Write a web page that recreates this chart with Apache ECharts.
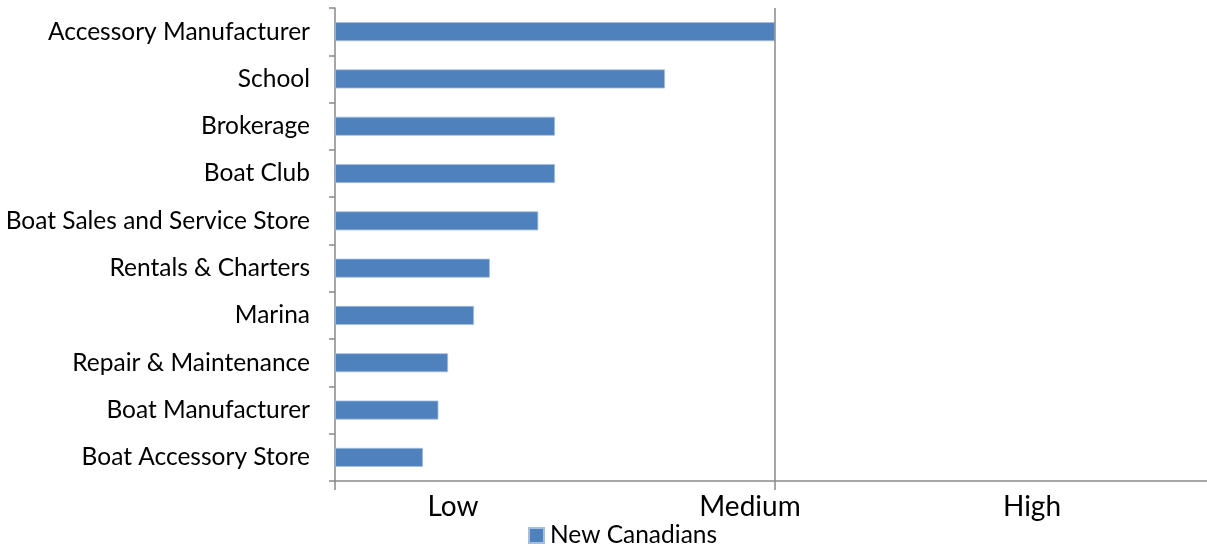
<!DOCTYPE html>
<html>
<head>
<meta charset="utf-8">
<script src="https://cdn.jsdelivr.net/npm/echarts@6/dist/echarts.min.js"></script>
<style>html,body{margin:0;padding:0;background:#fff;overflow:hidden}#wrap{width:1207px;height:546px;overflow:hidden}#c{width:1215px;height:546px}</style>
</head>
<body>
<div id="wrap"><div id="c"></div></div>
<script>
const categories = ["Accessory Manufacturer","School","Brokerage","Boat Club","Boat Sales and Service Store","Rentals & Charters","Marina","Repair & Maintenance","Boat Manufacturer","Boat Accessory Store"];
const newCanadians = [1.0, 0.75, 0.5, 0.5, 0.462, 0.352, 0.316, 0.257, 0.235, 0.2];
const levelLabels = ["Low","Medium","High"];
const seriesName = "New Canadians";

const chart = echarts.init(document.getElementById('c'), null, {renderer:'canvas'});
const levelX = [453, 750, 1032];
chart.setOption({
  animation:false,
  textStyle:{fontFamily:'Lato'},
  grid:{left:335, top:8, bottom:65, right:0, containLabel:false},
  xAxis:{type:'value', min:0, max:2, interval:1,
    axisLine:{show:true, lineStyle:{color:'#898989', width:1.5}},
    axisTick:{show:true, length:9, customValues:[0,1], lineStyle:{color:'#898989', width:1.5}},
    splitLine:{show:false},
    axisLabel:{show:false}},
  yAxis:{type:'category', data:categories, inverse:true,
    axisLine:{show:true, lineStyle:{color:'#898989', width:1.5}},
    axisTick:{show:true, length:6, lineStyle:{color:'#898989', width:1.5}},
    axisLabel:{color:'#000', fontSize:24.5, margin:25, fontFamily:'Lato'}},
  legend:{left:528, top:523, padding:0, itemWidth:15, itemHeight:15, itemGap:6,
    icon:'rect', textStyle:{fontSize:24.5, color:'#000', fontFamily:'Lato', padding:[0,0,0,1]}, data:[seriesName]},
  series:[{name:seriesName, type:'bar', data:newCanadians, barWidth:19,
    itemStyle:{color:'#4F81BD', borderColor:'#A7BFDE', borderWidth:0.8},
    markLine:{silent:true, symbol:'none', label:{show:false},
      lineStyle:{color:'#898989', width:1.5, type:'solid'},
      data:[{xAxis:1}]}}],
  graphic: levelLabels.map((t,i)=>({type:'text', x:levelX[i], y:507,
    style:{text:t, fill:'#000', font:'28px Lato', textAlign:'center', textVerticalAlign:'middle'}}))
});
</script>
</body>
</html>
